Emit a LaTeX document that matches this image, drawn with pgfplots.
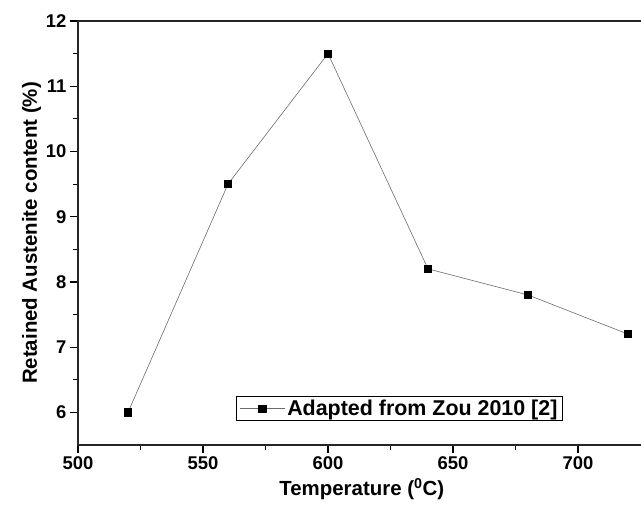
\documentclass[border=0pt]{standalone}
\usepackage{fontspec}
\setmainfont{Liberation Sans}
\usepackage{pgfplots}
\pgfplotsset{compat=1.18}
\begin{document}
\begin{tikzpicture}
\begin{axis}[
  scale only axis,
  width=567.5bp, height=424bp,
  xmin=500, xmax=727, ymin=5.5, ymax=12,
  axis line style={line width=1.1pt, black!85},
  xtick={500,550,...,700}, ytick={6,7,...,12},
  minor x tick num=1, minor y tick num=1,
  tick align=outside,
  major tick length=8bp, minor tick length=5bp,
  major tick style={line width=1.3pt, black},
  minor tick style={line width=1.1pt, black},
  xtick pos=bottom, ytick pos=left,
  /pgf/number format/assume math mode=true,
  ticklabel style={font=\fontsize{18.5}{21}\selectfont\bfseries},
  xlabel={Temperature (\textsuperscript{0}C)},
  ylabel={Retained Austenite content (\%)},
  label style={font=\fontsize{20.5}{24}\selectfont\bfseries},
  xlabel style={yshift=-2bp},
  ylabel style={yshift=-2bp},
  legend style={at={(0.2783,0.057)}, anchor=south west, draw=black, line width=0.8pt,
    font=\fontsize{21.5}{25}\selectfont\bfseries, inner xsep=3pt, inner ysep=1.5pt, row sep=0pt},
  legend image code/.code={\draw[#1, mark repeat=2, mark phase=2] plot coordinates {(0cm,0cm)(0.8cm,0cm)(1.6cm,0cm)};},
  clip=false,
]
\addplot[gray!85!black, line width=0.6pt, mark=square*, mark size=3.6pt, mark options={fill=black, draw=black, solid}]
  coordinates {(520,6.0) (560,9.5) (600,11.5) (640,8.2) (680,7.8) (720,7.2)};
\addlegendentry{Adapted from Zou 2010 [2]}
\end{axis}
\path (current axis.south west) ++(-78bp,-71bp) coordinate (bl);
\path (current axis.south west) ++(563bp,445bp) coordinate (tr);
\pgfresetboundingbox
\path[use as bounding box] (bl) rectangle (tr);
\end{tikzpicture}
\end{document}
